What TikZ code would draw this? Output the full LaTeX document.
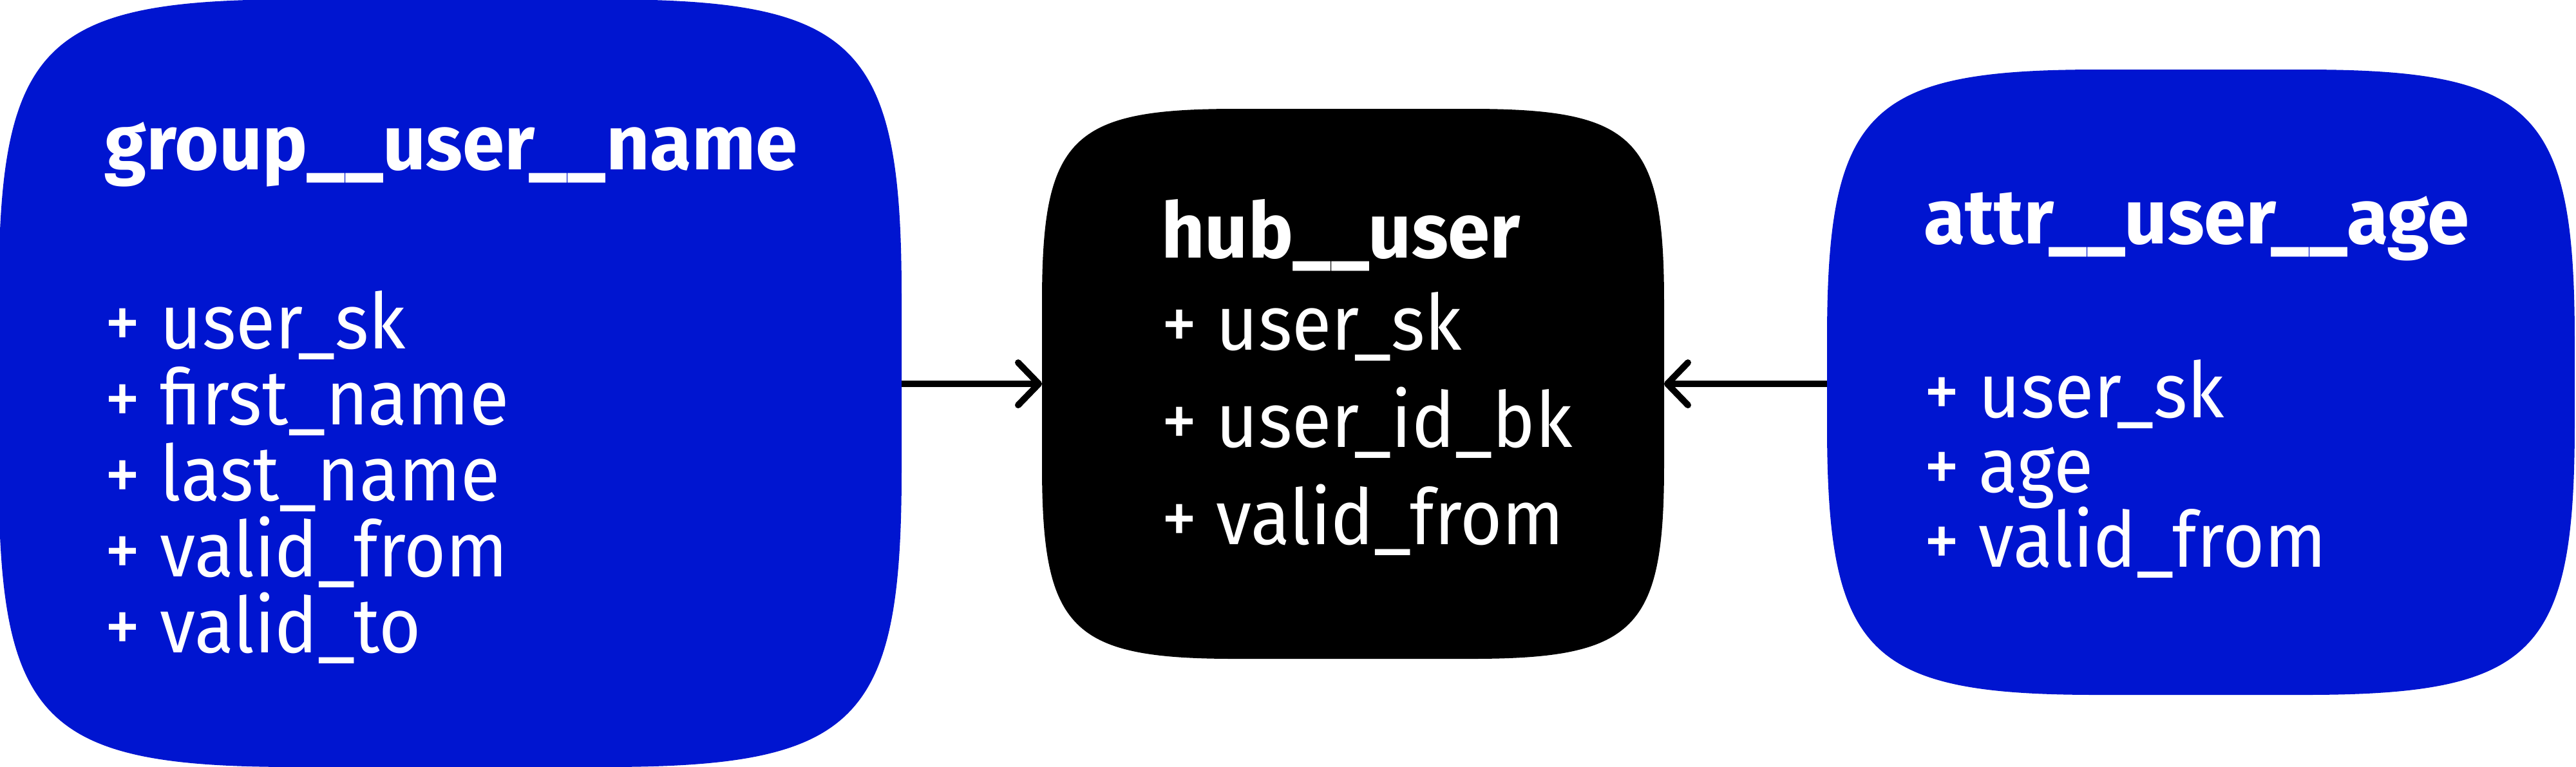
\documentclass[tikz,border=0pt]{standalone}
\usepackage{fontspec}
\setmainfont{Fira Sans}
\newfontfamily\itemfont{Fira Sans}[FakeStretch=0.935]
\newfontfamily\titlefont{Fira Sans}[FakeStretch=0.98]
\usetikzlibrary{arrows.meta,calc}
\definecolor{satblue}{HTML}{0015D0}

% soft (squircle) corners round a named box node
\newcommand{\softbox}[3]{%
  \fill[#3] let \p1=(#1.south west), \p2=(#1.north east) in
    (\x1,\y1+#2) -- (\x1,\y2-#2)
    .. controls (\x1,\y2-0.15*#2) and (\x1+0.15*#2,\y2) .. (\x1+#2,\y2)
    -- (\x2-#2,\y2)
    .. controls (\x2-0.15*#2,\y2) and (\x2,\y2-0.15*#2) .. (\x2,\y2-#2)
    -- (\x2,\y1+#2)
    .. controls (\x2,\y1+0.15*#2) and (\x2-0.15*#2,\y1) .. (\x2-#2,\y1)
    -- (\x1+#2,\y1)
    .. controls (\x1+0.15*#2,\y1) and (\x1,\y1+0.15*#2) .. (\x1,\y1+#2) -- cycle;}

\begin{document}
\begin{tikzpicture}[x=1pt,y=1pt,
    box/.style={rectangle,inner sep=0pt},
    title/.style={anchor=base west,inner sep=0pt,text=white,font=\fontsize{12}{14}\titlefont\bfseries},
    item/.style={anchor=base west,inner sep=0pt,text=white,font=\fontsize{12}{14}\itemfont},
    link/.style={line width=1pt,-{Straight Barb[length=3.2pt,width=6.6pt,round]}}]
  \useasboundingbox (0,0) rectangle (400,119);
  % tables
  \node[box,minimum width=139.8pt,minimum height=118.8pt] (grp) at (69.9,59.5) {};
  \node[box,minimum width=96.2pt,minimum height=85pt] (hub) at (210.1,59.4) {};
  \node[box,minimum width=115.7pt,minimum height=96.7pt] (attr) at (341.75,59.65) {};
  \softbox{grp}{46pt}{satblue}
  \softbox{hub}{30pt}{black}
  \softbox{attr}{42pt}{satblue}
  % links
  \draw[link] (hub.west -| grp.east) -- (hub.west);
  \draw[link] (hub.east -| attr.west) -- (hub.east);
  % group
  \node[title] (grp-t) at (16.1,92.7) {group\_\_user\_\_name};
  \foreach \fld [count=\i] in {user\_sk,first\_name,last\_name,valid\_from,valid\_to}
    \node[item] (grp-\i) at (16.1,76.7-11.8*\i) {+ \fld};
  % hub
  \node[title] (hub-t) at (180.1,79.0) {hub\_\_user};
  \foreach \fld [count=\i] in {user\_sk,user\_id\_bk,valid\_from}
    \node[item] (hub-\i) at (180.1,79.8-15.1*\i) {+ \fld};
  % attribute
  \node[title] (attr-t) at (298.5,81.2) {attr\_\_user\_\_age};
  \foreach \fld [count=\i] in {user\_sk,age,valid\_from}
    \node[item] (attr-\i) at (298.5,65.8-11.6*\i) {+ \fld};
\end{tikzpicture}
\end{document}
